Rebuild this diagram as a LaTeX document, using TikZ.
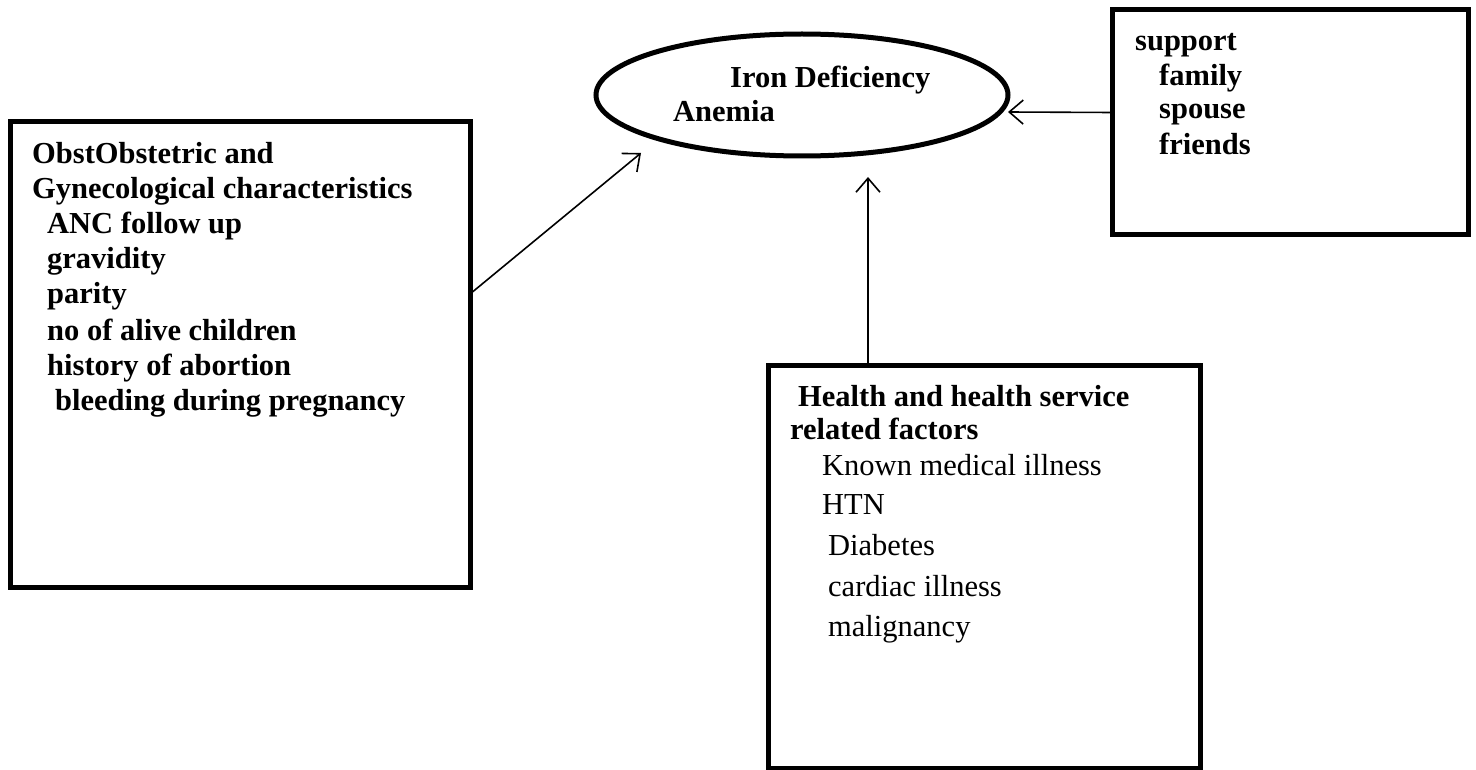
\documentclass[tikz,border=0pt]{standalone}
\usepackage{fontspec}
\setmainfont{Liberation Serif}
\usetikzlibrary{arrows.meta,shapes.geometric}
\begin{document}
\begin{tikzpicture}[x=1pt,y=-1pt,
  box/.style={draw,line width=5pt,inner sep=0pt,outer sep=0pt},
  oval/.style={draw,ellipse,line width=5pt,inner sep=0pt,outer sep=0pt},
  arr/.style={line width=1.6pt,-{Straight Barb[length=14pt,width=24pt,line width=1.6pt]}},
  bt/.style={anchor=base west,inner sep=0pt,font=\fontsize{30.5}{35}\selectfont\bfseries},
  rt/.style={anchor=base west,inner sep=0pt,font=\fontsize{30.5}{35}\selectfont}]
\useasboundingbox (0,0) rectangle (1476,770);
\fill[white] (0,0) rectangle (1476,770);

% shapes
\node[oval, minimum width=412pt, minimum height=122pt] (iron) at (802,95) {};
\node[box, minimum width=460pt, minimum height=465pt] (obst) at (240,354.5) {};
\node[box, minimum width=356pt, minimum height=225pt] (sup) at (1290,122.5) {};
\node[box, minimum width=432pt, minimum height=403pt] (health) at (984,566.5) {};

% ellipse text
\node[bt] (i1) at (730,88) {Iron Deficiency};
\node[bt] (i2) at (673,122) {Anemia};

% left box text
\node[bt] (o1) at (32,164) {ObstObstetric and};
\node[bt] (o2) at (32,199) {Gynecological characteristics};
\node[bt] (o3) at (47,234) {ANC follow up};
\node[bt] (o4) at (47,269) {gravidity};
\node[bt] (o5) at (47,304) {parity};
\node[bt] (o6) at (47,340) {no of alive children};
\node[bt] (o7) at (47,375) {history of abortion};
\node[bt] (o8) at (55,410) {bleeding during pregnancy};

% support box text
\node[bt] (s1) at (1135,51) {support};
\node[bt] (s2) at (1159,86) {family};
\node[bt] (s3) at (1159,119) {spouse};
\node[bt] (s4) at (1159,155) {friends};

% health box text
\node[bt] (h1) at (798,406) {Health and health service};
\node[bt] (h2) at (790,439) {related factors};
\node[rt] (h3) at (822,475) {Known medical illness};
\node[rt] (h4) at (822,514) {HTN};
\node[rt] (h5) at (828,555) {Diabetes};
\node[rt] (h6) at (828,596) {cardiac illness};
\node[rt] (h7) at (828,636) {malignancy};

% connectors
\coordinate (t1) at (641,153);
\coordinate (t2) at (868,177);
\coordinate (t3) at (1008,112);
\draw[arr] ([yshift=-172pt]obst.north east) -- (t1);
\draw[arr] ([xshift=-116pt]health.north) -- (t2);
\draw[arr] ([yshift=10pt]sup.west) -- (t3);
\end{tikzpicture}
\end{document}
